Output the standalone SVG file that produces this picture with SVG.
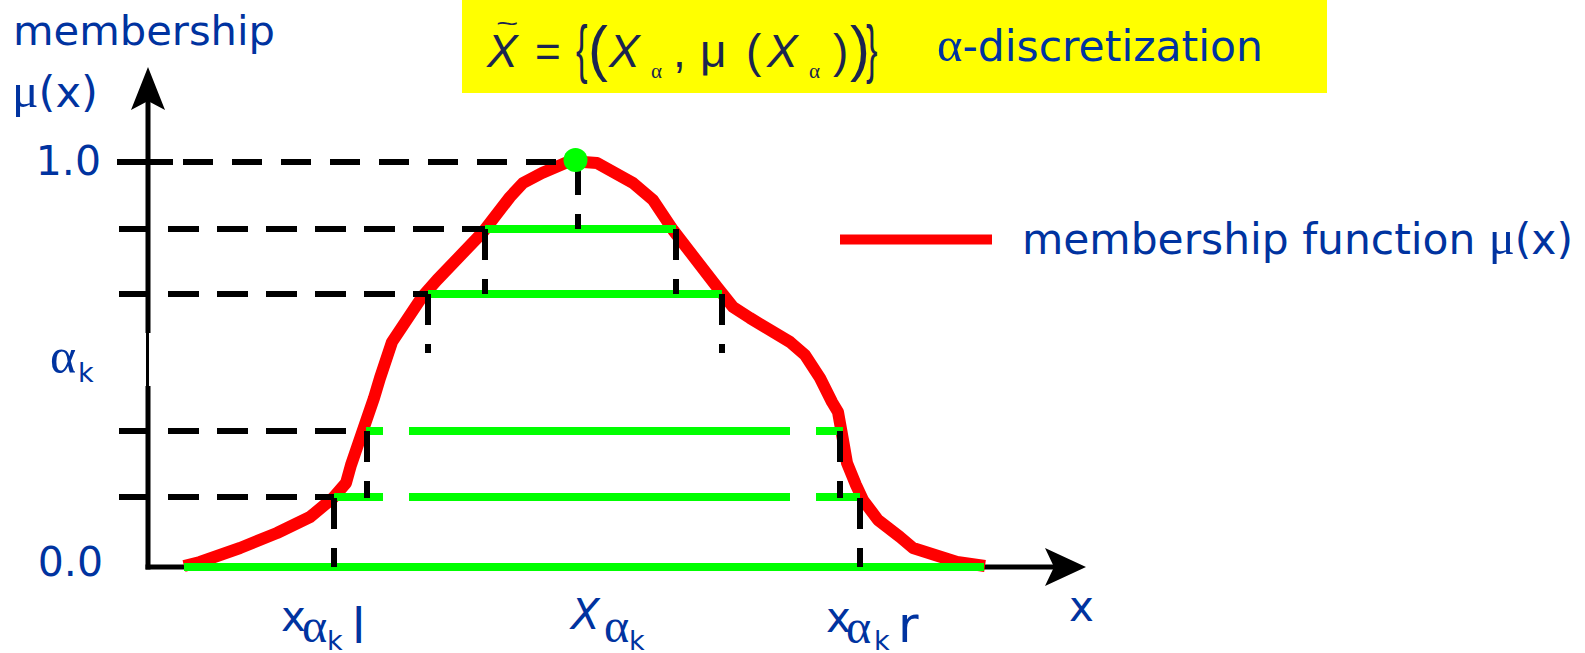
<svg xmlns="http://www.w3.org/2000/svg" width="1585" height="653" viewBox="0 0 1585 653">
<defs>
<style>
.lbl{font-family:"DejaVu Sans","Verdana",sans-serif;fill:#0033A0}
.gr{font-family:"Liberation Serif","Times New Roman",serif}
.fx{font-family:"Liberation Sans","Arial",sans-serif;fill:#1B2550}
.fs{font-family:"Liberation Serif","Times New Roman",serif;fill:#1B2550}
.dash{stroke:#000;stroke-width:6;fill:none}
.h{stroke-dasharray:31 18}
.v{stroke-dasharray:31 19}
.grn{stroke:#00FF00;stroke-width:8;fill:none}
.axis{stroke:#000;stroke-width:5;fill:none}
</style>
</defs>
<rect width="1585" height="653" fill="#FFFFFF"/>

<g id="formula">
<rect x="462" y="0" width="865" height="93" fill="#FFFF00"/>
<text class="fx" x="487" y="67" font-size="46" font-style="italic">X</text>
<text class="fx" font-size="24" transform="translate(496,32) scale(1.6,1)">~</text>
<text class="fx" x="535" y="67" font-size="44">=</text>
<text class="fx" font-size="46" transform="translate(576,71) scale(0.75,1.39)">{</text>
<text class="fx" font-size="46" transform="translate(588,69) scale(1.3,1.34)">(</text>
<text class="fx" x="609" y="67" font-size="46" font-style="italic">X</text>
<text class="fs" x="651" y="78" font-size="21">α</text>
<text class="fx" x="673" y="67" font-size="46">,</text>
<text class="fx" x="700" y="67" font-size="46">μ</text>
<text class="fx" x="746" y="67" font-size="46">(</text>
<text class="fx" x="767" y="67" font-size="46" font-style="italic">X</text>
<text class="fs" x="809" y="78" font-size="21">α</text>
<text class="fx" x="833" y="67" font-size="46">)</text>
<text class="fx" font-size="46" transform="translate(850,69) scale(1.3,1.34)">)</text>
<text class="fx" font-size="46" transform="translate(866,71) scale(0.75,1.39)">}</text>
<text class="lbl" x="937" y="61" font-size="42" textLength="326" lengthAdjust="spacingAndGlyphs"><tspan class="gr" font-size="48">α</tspan>-discretization</text>
</g>

<g id="axes">
<line class="axis" x1="148" y1="100" x2="148" y2="333"/>
<line x1="147.5" y1="332" x2="147.5" y2="388" stroke="#000" stroke-width="3"/>
<line class="axis" x1="148" y1="386" x2="148" y2="569.5"/>
<line class="axis" x1="145.5" y1="567" x2="1055" y2="567"/>
<polygon points="148,67 165,110 148,101 131,110" fill="#000"/>
<polygon points="1086,567 1045,548 1054,567 1045,586" fill="#000"/>
<line x1="117" y1="162" x2="173" y2="162" stroke="#000" stroke-width="6"/>
</g>

<g id="curve">
<polyline fill="none" stroke="#FF0000" stroke-width="12" stroke-linejoin="round" points="184,566 200,562 240,548 277,533 310,517 333,498 346,483 351,465 363,430 374,398 380,378 392,342 422,297 437,280 483,232 510,197 523,183 542,173 570,161 597,163 633,183 653,200 673,230 717,287 733,307 750,318 790,342 805,355 820,378 832,402 838,412 843,440 847,463 856,485 863,500 878,520 900,537 913,548 957,562 985,566"/>
</g>

<g id="alpha-cuts">
<line class="grn" x1="184" y1="567" x2="984" y2="567"/>
<line class="grn" x1="485" y1="229" x2="676" y2="229"/>
<line class="grn" x1="428" y1="294" x2="722" y2="294"/>
<line class="grn" x1="366" y1="431" x2="383" y2="431"/>
<line class="grn" x1="409" y1="431" x2="790" y2="431"/>
<line class="grn" x1="816" y1="431" x2="843" y2="431"/>
<line class="grn" x1="334" y1="497" x2="383" y2="497"/>
<line class="grn" x1="409" y1="497" x2="790" y2="497"/>
<line class="grn" x1="816" y1="497" x2="860" y2="497"/>
</g>

<g id="connectors">
<line class="dash" x1="183" y1="162" x2="557" y2="162" stroke-dasharray="30 19"/>
<line class="dash h" x1="119" y1="229" x2="485" y2="229"/>
<line class="dash h" x1="119" y1="294" x2="428" y2="294"/>
<line class="dash h" x1="119" y1="431" x2="346" y2="431"/>
<line class="dash h" x1="119" y1="497" x2="334" y2="497"/>
<line class="dash v" x1="578" y1="164" x2="578" y2="229"/>
<line class="dash v" x1="485" y1="229" x2="485" y2="294"/>
<line class="dash v" x1="676" y1="229" x2="676" y2="294"/>
<line class="dash v" x1="428" y1="294" x2="428" y2="353"/>
<line class="dash v" x1="722" y1="294" x2="722" y2="353"/>
<line class="dash v" x1="367" y1="431" x2="367" y2="498"/>
<line class="dash v" x1="840" y1="431" x2="840" y2="498"/>
<line class="dash v" x1="334" y1="498" x2="334" y2="567"/>
<line class="dash v" x1="860" y1="498" x2="860" y2="567"/>
</g>

<g id="peak">
<circle cx="575.5" cy="160" r="12" fill="#00FF00"/>
</g>

<g id="legend">
<line x1="840" y1="239.5" x2="992" y2="239.5" stroke="#FF0000" stroke-width="10"/>
<text class="lbl" x="1022" y="254" font-size="42" textLength="551" lengthAdjust="spacingAndGlyphs">membership function <tspan class="gr" font-size="48">μ</tspan>(x)</text>
</g>

<g id="labels">
<text class="lbl" x="13" y="45" font-size="40" textLength="262" lengthAdjust="spacingAndGlyphs">membership</text>
<text class="lbl" x="12" y="107" font-size="42" textLength="86" lengthAdjust="spacingAndGlyphs"><tspan class="gr" font-size="48">μ</tspan>(x)</text>
<text class="lbl" x="101" y="175" font-size="41" text-anchor="end">1.0</text>
<text class="lbl" x="103" y="576" font-size="41" text-anchor="end">0.0</text>
<text class="lbl gr" x="50" y="373" font-size="50">α</text>
<text class="lbl" x="78" y="382" font-size="27">k</text>
<text class="lbl" x="281" y="631" font-size="42">x</text>
<text class="lbl gr" x="302" y="642" font-size="48">α</text>
<text class="lbl" x="327" y="650" font-size="27">k</text>
<text class="lbl" x="352" y="643" font-size="48">l</text>
<text class="lbl" x="571" y="629" font-size="42" font-style="italic">X</text>
<text class="lbl gr" x="604" y="642" font-size="48">α</text>
<text class="lbl" x="629" y="650" font-size="27">k</text>
<text class="lbl" x="826" y="632" font-size="42">x</text>
<text class="lbl gr" x="846" y="643" font-size="48">α</text>
<text class="lbl" x="874" y="650" font-size="27">k</text>
<text class="lbl" x="898" y="642" font-size="50">r</text>
<text class="lbl" x="1069" y="621" font-size="42">x</text>
</g>
</svg>
